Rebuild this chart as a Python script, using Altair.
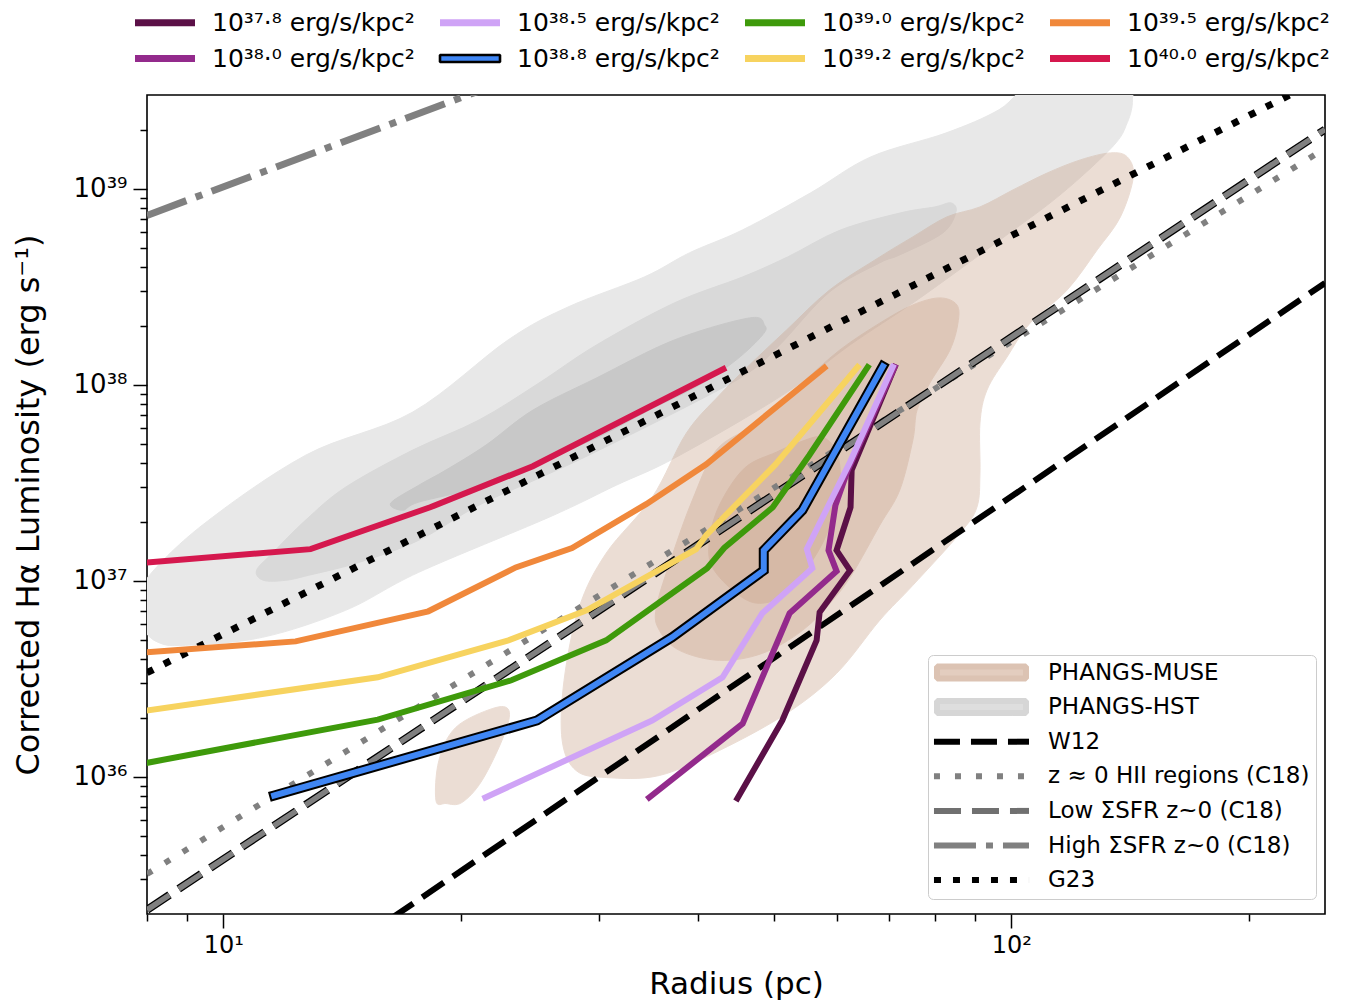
import altair as alt
import pandas as pd

FONT = "DejaVu Sans"

# ---------------- axis ranges / ticks ----------------
X_DOMAIN = [8, 250]
Y_DOMAIN = [2e35, 3e39]
x_ticks = [8, 9, 10, 20, 30, 40, 50, 60, 70, 80, 90, 100, 200]
y_ticks = [3e35, 4e35, 5e35, 6e35, 7e35, 8e35, 9e35,
           1e36, 2e36, 3e36, 4e36, 5e36, 6e36, 7e36, 8e36, 9e36,
           1e37, 2e37, 3e37, 4e37, 5e37, 6e37, 7e37, 8e37, 9e37,
           1e38, 2e38, 3e38, 4e38, 5e38, 6e38, 7e38, 8e38, 9e38,
           1e39, 2e39]

# ---------------- model curves ----------------
series_labels = [
    "10³⁷·⁸ erg/s/kpc²", "10³⁸·⁰ erg/s/kpc²", "10³⁸·⁵ erg/s/kpc²", "10³⁸·⁸ erg/s/kpc²",
    "10³⁹·⁰ erg/s/kpc²", "10³⁹·² erg/s/kpc²", "10³⁹·⁵ erg/s/kpc²", "10⁴⁰·⁰ erg/s/kpc²",
]
series_colors = ["#5b1047", "#932a8c", "#cfa3f6", "#3f86f4",
                 "#3e9a0b", "#f7d35f", "#f0883b", "#d5184e"]

r_378 = [44.9, 51.2, 56.6, 57.1, 62.4, 60.0, 62.5, 62.7, 71.1]
L_378 = [7.76e35, 1.94e36, 4.97e36, 6.91e36, 1.13e37, 1.43e37, 2.37e37, 3.67e37, 1.23e38]
r_380 = [34.7, 45.6, 52.3, 60.0, 58.6, 59.8, 62.0, 71.1]
L_380 = [7.85e35, 1.87e36, 6.83e36, 1.12e37, 1.43e37, 2.43e37, 3.67e37, 1.23e38]
r_385 = [21.5, 35.0, 43.0, 48.3, 55.9, 55.0, 62.4, 70.7]
L_385 = [7.85e35, 1.94e36, 3.22e36, 6.83e36, 1.16e37, 1.45e37, 4.03e37, 1.23e38]
r_388 = [11.6, 25.0, 37.1, 48.5, 48.5, 54.3, 57.6, 68.7]
L_388 = [8.04e35, 1.94e36, 5.15e36, 1.13e37, 1.43e37, 2.29e37, 3.50e37, 1.24e38]
r_390 = [8.0, 15.7, 23.2, 30.6, 41.1, 43.2, 49.8, 55.4, 65.7]
L_390 = [1.18e36, 1.96e36, 3.11e36, 4.97e36, 1.16e37, 1.47e37, 2.37e37, 4.37e37, 1.23e38]
r_392 = [8.0, 15.7, 23.0, 28.9, 39.8, 41.0, 50.1, 63.8]
L_392 = [2.18e36, 3.22e36, 4.97e36, 7.07e36, 1.45e37, 1.71e37, 3.89e37, 1.23e38]
r_395 = [8.0, 12.35, 18.2, 23.5, 27.7, 34.4, 41.0, 57.9]
L_395 = [4.32e36, 4.91e36, 6.99e36, 1.17e37, 1.47e37, 2.46e37, 3.93e37, 1.22e38]
r_400 = [8.0, 12.9, 18.3, 24.7, 43.1]
L_400 = [1.24e37, 1.45e37, 2.37e37, 3.84e37, 1.20e38]

series_r = [r_378, r_380, r_385, r_388, r_390, r_392, r_395, r_400]
series_L = [L_378, L_380, L_385, L_388, L_390, L_392, L_395, L_400]

# ---------------- literature relations (two end points each) ----------------
ref_r = [8, 250]
w12_L = [2.7e34, 3.3e38]
hii_L = [3.2e35, 1.6e39]
lowsfr_L = [2.1e35, 2.0e39]
highsfr_L = [7.3e38, 1.3e41]
g23_L = [3.4e36, 3.7e39]

ref_names = ["PHANGS-MUSE", "PHANGS-HST", "W12", "z ≈ 0 HII regions (C18)",
             "Low ΣSFR z~0 (C18)", "High ΣSFR z~0 (C18)", "G23"]

# ---------------- density contours (outline vertices) ----------------
hst_outer_r = [7.80, 7.96, 9.40, 12.72, 17.39, 22.97, 27.38, 34.20, 39.02, 45.57, 55.62,
               66.29, 82.58, 96.4, 108.7, 139.5, 142.4, 140.3, 134.3, 115.3, 96.7, 75.9,
               62.35, 51.24, 37.56, 31.51, 25.90, 17.70, 14.29, 11.21, 8.95, 8.27, 7.91]
hst_outer_L = [7.50e36, 1.006e37, 1.92e37, 4.37e37, 7.25e37, 1.69e38, 2.49e38, 3.54e38,
               4.70e38, 6.15e38, 9.51e38, 1.45e39, 1.92e39, 2.52e39, 3.59e39, 3.59e39,
               2.84e39, 2.17e39, 1.63e39, 9.29e38, 5.47e38, 2.70e38, 1.59e38, 8.85e37,
               4.27e37, 3.07e37, 2.11e37, 1.105e37, 7.07e36, 5.15e36, 4.69e36, 4.85e36, 5.72e36]
hst_mid_r = [11.02, 11.54, 12.72, 14.29, 17.39, 21.10, 25.15, 29.72, 37.34, 45.57, 51.99,
             60.70, 72.38, 79.98, 83.80, 85.04, 81.85, 72.16, 68.07, 58.79, 50.78, 46.52,
             40.18, 29.99, 25.67, 21.10, 17.70, 14.85, 12.83, 11.99, 11.24]
hst_mid_L = [1.131e37, 1.382e37, 2.04e37, 3.00e37, 4.64e37, 6.60e37, 1.02e38, 1.59e38,
             2.61e38, 3.54e38, 4.48e38, 6.15e38, 7.52e38, 8.06e38, 8.45e38, 7.61e38,
             5.94e38, 4.59e38, 4.18e38, 2.97e38, 1.59e38, 1.16e38, 8.35e37, 4.64e37,
             3.46e37, 2.43e37, 1.61e37, 1.24e37, 1.067e37, 1.006e37, 1.006e37]
hst_inner_r = [16.31, 17.70, 19.16, 21.54, 24.71, 29.72, 37.34, 46.52, 48.62, 48.32,
               44.78, 40.18, 34.71, 29.72, 24.71, 21.10, 17.70, 16.89]
hst_inner_L = [2.49e37, 3.07e37, 3.67e37, 4.92e37, 7.42e37, 1.08e38, 1.69e38, 2.19e38,
               2.01e38, 1.79e38, 1.34e38, 9.95e37, 7.42e37, 5.34e37, 3.89e37, 3.00e37,
               2.52e37, 2.29e37]

muse_outer_r = [26.91, 28.03, 30.60, 35.75, 42.61, 51.84, 59.99, 68.07, 74.97, 86.04, 90.41,
                91.22, 91.22, 93.11, 98.72, 105.6, 117.7, 128.5, 137.5, 142.8, 140.3, 133.5,
                122.3, 111.0, 100.5, 91.22, 82.82, 74.97, 68.07, 58.79, 51.84, 46.52, 42.61,
                38.68, 35.02, 30.60, 28.28, 27.06]
muse_outer_L = [1.534e36, 1.078e36, 9.93e35, 1.017e36, 1.364e36, 2.107e36, 3.37e36, 6.29e36,
                9.48e36, 1.748e37, 2.373e37, 3.54e37, 6.37e37, 9.39e37, 1.383e38, 2.06e38,
                3.04e38, 4.87e38, 7.17e38, 1.147e39, 1.45e39, 1.52e39, 1.40e39, 1.20e39,
                9.85e38, 8.06e38, 7.17e38, 5.67e38, 4.48e38, 3.04e38, 1.90e38, 1.26e38,
                8.85e37, 5.66e37, 2.67e37, 1.382e37, 7.32e36, 3.105e36]
muse_blob_r = [18.61, 18.77, 19.72, 21.98, 23.03, 22.70, 21.29, 20.07, 19.16]
muse_blob_L = [7.58e35, 1.212e36, 1.788e36, 2.235e36, 2.183e36, 1.627e36, 9.58e35, 7.40e35, 7.32e35]
muse_mid_r = [35.43, 35.75, 37.90, 42.61, 48.32, 54.33, 59.31, 62.88, 68.07, 72.16, 74.97,
              75.9, 78.8, 83.55, 85.53, 85.28, 81.14, 74.97, 68.07, 60.53, 53.84, 46.94,
              42.23, 39.37, 37.13]
muse_mid_L = [7.32e36, 5.59e36, 4.42e36, 3.93e36, 4.27e36, 5.59e36, 7.95e36, 1.092e37,
              1.92e37, 2.90e37, 5.21e37, 7.42e37, 1.02e38, 1.50e38, 2.06e38, 2.55e38,
              2.77e38, 2.55e38, 2.06e38, 1.50e38, 9.95e37, 6.22e37, 4.64e37, 2.58e37, 1.35e37]
muse_inner_r = [41.75, 44.78, 47.89, 51.84, 55.93, 58.79, 60.53, 60.20, 57.60, 53.84,
                50.34, 45.84, 42.61, 41.38]
muse_inner_L = [1.172e37, 8.64e36, 7.68e36, 8.64e36, 1.272e37, 1.876e37, 2.90e37, 4.37e37,
                5.40e37, 5.09e37, 4.53e37, 3.75e37, 2.43e37, 1.61e37]

# ---------------- scales / axes ----------------
xscale = alt.Scale(type="log", domain=X_DOMAIN, nice=False)
yscale = alt.Scale(type="log", domain=Y_DOMAIN, nice=False)

xtest = "datum.value == 10 || datum.value == 100"
ytest = "datum.value == 1e36 || datum.value == 1e37 || datum.value == 1e38 || datum.value == 1e39"

xaxis = alt.Axis(
    values=x_ticks, grid=False, domain=False,
    labelExpr="datum.value == 10 ? '10¹' : (datum.value == 100 ? '10²' : '')",
    tickSize={"condition": {"test": xtest, "value": 14}, "value": 7},
    tickWidth=1.5, tickColor="black",
    labelFont=FONT, labelFontSize=24, labelColor="black", labelPadding=5,
    labelOverlap=False, labelFlush=False, labelBound=False,
    title="Radius (pc)", titleFont=FONT, titleFontSize=31, titleFontWeight="normal",
    titleColor="black", titlePadding=12,
)
yaxis = alt.Axis(
    values=y_ticks, grid=False, domain=False,
    labelExpr=("datum.value == 1e36 ? '10³⁶' : (datum.value == 1e37 ? '10³⁷' : "
               "(datum.value == 1e38 ? '10³⁸' : (datum.value == 1e39 ? '10³⁹' : '')))"),
    tickSize={"condition": {"test": ytest, "value": 14}, "value": 7},
    tickWidth=1.5, tickColor="black",
    labelFont=FONT, labelFontSize=26, labelColor="black", labelPadding=6,
    labelOverlap=False, labelFlush=False, labelBound=False,
    title="Corrected Hα Luminosity (erg s⁻¹)", titleFont=FONT, titleFontSize=32,
    titleFontWeight="normal", titleColor="black", titlePadding=28,
)

X = alt.X("r:Q", scale=xscale, axis=xaxis)
Y = alt.Y("L:Q", scale=yscale, axis=yaxis)


def poly_df(name, rs, Ls):
    return pd.DataFrame({"r": rs, "L": Ls, "poly": name, "i": list(range(len(rs)))})


def polygon(df, color, opacity):
    return alt.Chart(df).mark_line(
        fill=color, stroke=color, strokeWidth=1, opacity=opacity,
        interpolate="cardinal-closed", clip=True
    ).encode(x=X, y=Y, order="i:Q", detail="poly:N")


def ref_line(Ls, color, width, dash):
    df = pd.DataFrame({"r": ref_r, "L": Ls})
    return alt.Chart(df).mark_line(
        color=color, strokeWidth=width, strokeDash=dash, strokeCap="butt", clip=True
    ).encode(x=X, y=Y)


def series_line(k, color, width):
    df = pd.DataFrame({"r": series_r[k], "L": series_L[k], "i": list(range(len(series_r[k])))})
    return alt.Chart(df).mark_line(
        color=color, strokeWidth=width, strokeCap="square", clip=True
    ).encode(x=X, y=Y, order="i:Q")


MUSE_C = "#c8a087"
layers = [
    polygon(poly_df("ho", hst_outer_r, hst_outer_L), "#e8e8e8", 1.0),
    polygon(poly_df("hm", hst_mid_r, hst_mid_L), "#d9d9d9", 1.0),
    polygon(poly_df("hi", hst_inner_r, hst_inner_L), "#c8c8c8", 1.0),
    polygon(pd.concat([poly_df("mo", muse_outer_r, muse_outer_L),
                       poly_df("mb", muse_blob_r, muse_blob_L)]), MUSE_C, 0.35),
    polygon(poly_df("mm", muse_mid_r, muse_mid_L), MUSE_C, 0.35),
    polygon(poly_df("mi", muse_inner_r, muse_inner_L), MUSE_C, 0.35),
    ref_line(w12_L, "black", 6, [26, 11]),
    ref_line(hii_L, "#808080", 6, [6, 15]),
    ref_line(lowsfr_L, "black", 8, [27, 11]),
    ref_line(lowsfr_L, "#808080", 5.5, [27, 11]),
    ref_line(highsfr_L, "#808080", 7, [42, 10, 7, 10]),
    ref_line(g23_L, "black", 7, [7, 12]),
]

for k in range(3):
    layers.append(series_line(k, series_colors[k], 6))
layers.append(series_line(3, "black", 10))
for k in range(3, 8):
    layers.append(series_line(k, series_colors[k], 6))

# ---------------- legends ----------------
order_idx = [0, 2, 4, 6, 1, 3, 5, 7]  # legend laid out row-wise in 4 columns
legend_domain = [series_labels[k] for k in order_idx]
legend_colors = [series_colors[k] for k in order_idx]
legend_widths = [2.6 if k == 3 else 0 for k in order_idx]

# symbol size 100 -> path unit = 5 px; symbol centred at 12.5 px in its slot
RECT_TOP = "M-2.5,-0.7L9.5,-0.7L9.5,0.7L-2.5,0.7Z"
leg_top = alt.Legend(
    title=None, orient="none", legendX=-12, legendY=-85, direction="horizontal",
    columns=4, gridAlign="all", symbolType=RECT_TOP, symbolSize=100, labelFont=FONT,
    labelFontSize=25, labelColor="black", labelOffset=52, labelLimit=400,
    columnPadding=23, rowPadding=10, padding=0,
)
legend_top_df = pd.DataFrame({"label": legend_domain, "r": [10.0] * 8, "L": [1e37] * 8})
layers.append(
    alt.Chart(legend_top_df).transform_filter("false")
    .mark_point(filled=True, opacity=1, stroke="black", shape=RECT_TOP, size=100)
    .encode(
        x=X, y=Y,
        color=alt.Color("label:N", scale=alt.Scale(domain=legend_domain, range=legend_colors),
                        legend=leg_top),
        strokeWidth=alt.StrokeWidth("label:N", scale=alt.Scale(type="ordinal", domain=legend_domain,
                                                               range=legend_widths), legend=leg_top),
    )
)

# symbol size 256 -> path unit = 8 px; symbol centred at 11.5 px in its slot
RECT_BOT = "M-1.06,-0.75L10.06,-0.75L10.06,0.75L-1.06,0.75Z"
LINE_BOT = "M-1.44,0L10.44,0"
leg_bot = alt.Legend(
    title=None, orient="none", legendX=781, legendY=560, direction="vertical",
    symbolSize=256, symbolStrokeWidth=6, labelFont=FONT, labelFontSize=23,
    labelColor="black", labelOffset=91, labelLimit=400, rowPadding=10.6, padding=6,
    fillColor="white", strokeColor="#cccccc", cornerRadius=5, zindex=1,
)
legend_bot_df = pd.DataFrame({"name": ref_names, "r": [10.0] * 7, "L": [1e37] * 7})
layers.append(
    alt.Chart(legend_bot_df).transform_filter("false")
    .mark_point(filled=True, opacity=1, size=256)
    .encode(
        x=X, y=Y,
        shape=alt.Shape("name:N", scale=alt.Scale(domain=ref_names, range=[
            RECT_BOT, RECT_BOT, LINE_BOT, LINE_BOT, LINE_BOT, LINE_BOT, LINE_BOT]), legend=leg_bot),
        fill=alt.Fill("name:N", scale=alt.Scale(domain=ref_names, range=[
            "#e3cdbf", "#dedede", "transparent", "transparent", "transparent",
            "transparent", "transparent"]), legend=leg_bot),
        stroke=alt.Stroke("name:N", scale=alt.Scale(domain=ref_names, range=[
            "#dcc3b3", "#d6d6d6", "black", "#808080", "#707070", "#808080", "black"]),
            legend=leg_bot),
        strokeDash=alt.StrokeDash("name:N", scale=alt.Scale(domain=ref_names, range=[
            [1, 0], [1, 0], [26, 11], [6, 15], [27, 11], [42, 10, 7, 10], [7, 12]]),
            legend=leg_bot),
    )
)

chart = alt.layer(*layers).properties(
    width=1178, height=819,
    autosize=alt.AutoSizeParams(type="none"),
    padding={"left": 147, "top": 95, "right": 29, "bottom": 91},
    background="white",
).configure_view(
    stroke="black", strokeWidth=1.6
).configure_point(strokeJoin="bevel")

chart.save("out.html", embed_options={"renderer": "svg", "actions": False})
